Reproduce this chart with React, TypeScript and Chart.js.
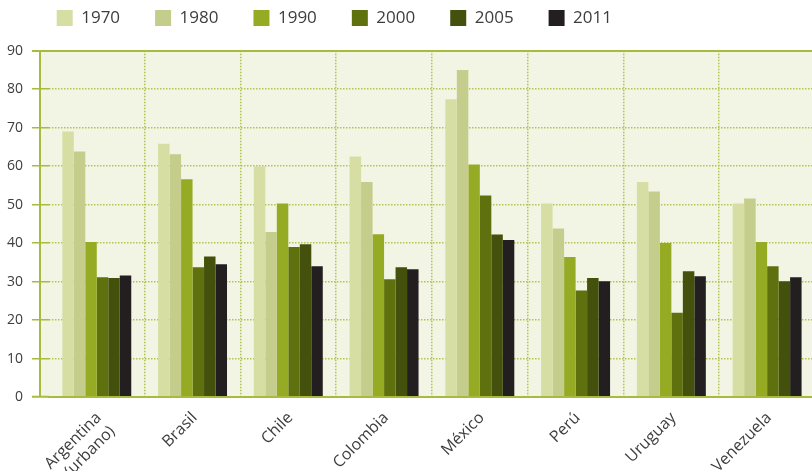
import { useEffect, useRef } from 'react';
import { Chart, registerables } from 'chart.js';

Chart.register(...registerables);

// ---- data ----
const countries: (string | string[])[] = [
  ['Argentina', '(urbano)'],
  'Brasil',
  'Chile',
  'Colombia',
  'México',
  'Perú',
  'Uruguay',
  'Venezuela',
];
const years = ['1970', '1980', '1990', '2000', '2005', '2011'];
const v1970 = [69.0, 65.8, 60.0, 62.5, 77.4, 50.3, 55.9, 50.3];
const v1980 = [63.8, 63.1, 42.9, 55.9, 85.0, 43.8, 53.4, 51.6];
const v1990 = [40.3, 56.6, 50.3, 42.3, 60.4, 36.4, 40.0, 40.3];
const v2000 = [31.1, 33.7, 39.0, 30.6, 52.4, 27.7, 21.9, 34.0];
const v2005 = [30.9, 36.5, 39.7, 33.7, 42.2, 30.9, 32.7, 30.1];
const v2011 = [31.6, 34.5, 34.0, 33.2, 40.8, 30.1, 31.4, 31.1];
const seriesValues = [v1970, v1980, v1990, v2000, v2005, v2011];
const yMax = 90;
const yStep = 10;

// ---- styles ----
const seriesColors = ['#d7dea4', '#c4cd8b', '#96ab24', '#5f700f', '#44510d', '#231f20'];
const PLOT_BG = '#f2f4e4';
const GRID_SOLID = '#a9bb3e';
const GRID_DOT = '#b3c352';
const TEXT = '#3d3d3d';
const FONT = "'Open Sans', 'Noto Sans', sans-serif";

const LEGEND_LEFT = 21.7;
const LEGEND_TOP = -25.5;
const LEGEND_PAD = 35;
const LEGEND_H = 50.7;
const Y_AXIS_W = 48.9;
const X_AXIS_H = 74;
const FRAME_GAP = 8.9; // gap between outer frame line and first category

const decorPlugin = {
  id: 'decor',
  beforeUpdate(chart: any) {
    const lg = chart.legend;
    if (lg && !lg.__patched) {
      const orig = lg.fit;
      lg.fit = function () {
        orig.call(this);
        this.height = LEGEND_H;
      };
      lg.__patched = true;
    }
  },
  afterLayout(chart: any) {
    const lg = chart.legend;
    if (lg) {
      lg.left = LEGEND_LEFT;
      lg.top = LEGEND_TOP;
    }
  },
  beforeDraw(chart: any) {
    const { ctx, chartArea, width } = chart;
    const x0 = chartArea.left - FRAME_GAP;
    ctx.save();
    ctx.fillStyle = PLOT_BG;
    ctx.fillRect(x0, chartArea.top, width - x0, chartArea.bottom - chartArea.top);
    ctx.strokeStyle = GRID_SOLID;
    ctx.lineWidth = 2;
    ctx.beginPath();
    ctx.moveTo(x0, chartArea.top);
    ctx.lineTo(x0, chartArea.bottom);
    ctx.stroke();
    ctx.restore();
  },
};

export default function App() {
  const ref = useRef<HTMLCanvasElement>(null);
  useEffect(() => {
    if (!ref.current) return;
    Chart.defaults.font.family = FONT;
    const chart = new Chart(ref.current, {
      type: 'bar',
      data: {
        labels: countries,
        datasets: years.map((y, i) => ({
          label: y,
          data: seriesValues[i],
          backgroundColor: seriesColors[i],
          borderWidth: 0,
          barPercentage: 1,
          categoryPercentage: 0.72,
        })),
      },
      options: {
        responsive: false,
        animation: false,
        devicePixelRatio: 1,
        layout: { padding: { left: 0, top: 0, right: 1, bottom: 0 } },
        plugins: {
          legend: {
            position: 'top',
            align: 'start',
            labels: {
              boxWidth: 16,
              boxHeight: 16,
              padding: LEGEND_PAD,
              color: TEXT,
              font: { size: 17, family: FONT },
            },
          },
          tooltip: { enabled: false },
        },
        scales: {
          x: {
            offset: true,
            grid: {
              offset: true,
              color: (c: any) => (c.index === 0 ? 'rgba(0,0,0,0)' : GRID_DOT),
              lineWidth: 1.5,
              drawTicks: false,
            },
            border: { display: true, color: GRID_SOLID, width: 2, z: 1, dash: [1.5, 1.5] },
            ticks: {
              autoSkip: false,
              maxRotation: 45,
              minRotation: 45,
              padding: 11.5,
              labelOffset: 2,
              color: TEXT,
              font: { size: 16, family: FONT },
            },
            afterFit: (s: any) => {
              s.height = X_AXIS_H;
              s.paddingLeft = 0;
              s.paddingRight = 0;
            },
          },
          y: {
            min: 0,
            max: yMax,
            grid: {
              color: (c: any) =>
                !c.tick || c.tick.value === 0
                  ? 'rgba(0,0,0,0)'
                  : c.tick.value === yMax
                  ? GRID_SOLID
                  : GRID_DOT,
              lineWidth: (c: any) => (c.tick && c.tick.value === yMax ? 2 : 1.5),
              tickColor: GRID_SOLID,
              tickWidth: (c: any) => (c.tick && (c.tick.value === yMax || c.tick.value === 0) ? 2 : 1.5),
              tickLength: 17,
              drawTicks: true,
            },
            border: {
              display: false,
              dash: (c: any) => (c.tick && c.tick.value === yMax ? [] : [1.5, 1.5]),
            },
            ticks: {
              stepSize: yStep,
              padding: 9,
              color: TEXT,
              font: { size: 14, family: FONT },
            },
            afterFit: (s: any) => {
              s.width = Y_AXIS_W;
              s.paddingTop = 0;
              s.paddingBottom = 0;
            },
          },
        },
      },
      plugins: [decorPlugin],
    } as any);
    return () => chart.destroy();
  }, []);
  return (
    <div
      style={{
        position: 'fixed',
        left: 0,
        top: 0,
        width: 812,
        height: 471,
        overflow: 'hidden',
        background: '#ffffff',
      }}
    >
      <canvas ref={ref} width={816} height={471} style={{ display: 'block' }} />
    </div>
  );
}
